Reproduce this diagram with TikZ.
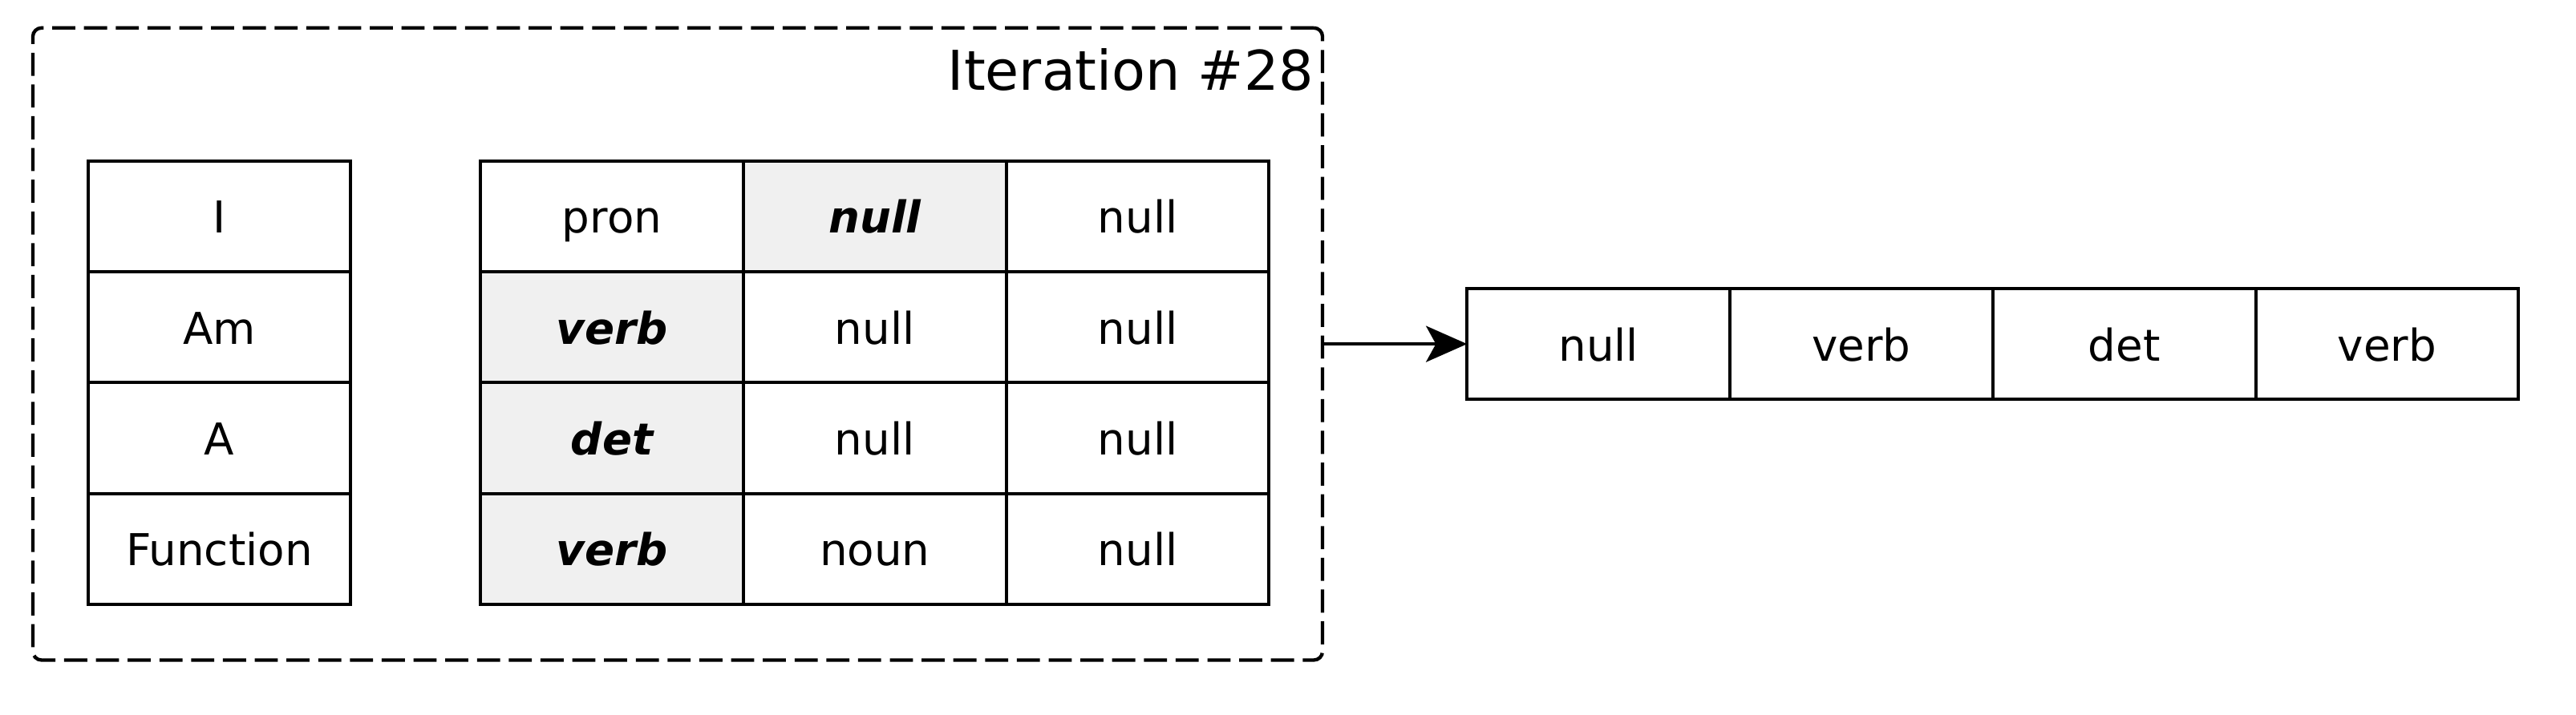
\documentclass[tikz,border=0pt]{standalone}
\usepackage{fontspec}
\setmainfont{DejaVu Sans}
\usepackage{tikz}
\usetikzlibrary{arrows.meta,positioning}
\definecolor{pick}{HTML}{F0F0F0}

\begin{document}
\begin{tikzpicture}[node distance=0pt,
  cl/.style={draw,line width=1.1pt,outer sep=0pt,minimum width=3.2cm,minimum height=1.35cm,text height=11.6pt,text depth=0pt,font=\fontsize{15.2}{18}\selectfont},
  hl/.style={cl,fill=pick,font=\fontsize{15.2}{18}\selectfont\bfseries\itshape},
  bx/.style={draw,line width=1.2pt,dash pattern=on 8pt off 3pt,rounded corners=3pt,outer sep=0pt,minimum width=15.7cm,minimum height=7.7cm},
  ar/.style={-{Stealth[length=0.5cm,width=0.44cm,inset=0.12cm]},line width=1.1pt},
  tl/.style={font=\fontsize{19}{22}\selectfont,inner sep=0pt}]
  \useasboundingbox (0,0) rectangle (31.36,8.7);
  \node[bx] (iter) at (8.25,4.51) {};
  \node[tl,anchor=base east] (title) at ([xshift=-0.1cm,yshift=-0.76cm]iter.north east) {Iteration \#28};
  % words
  \node[cl] (w1) at (2.67,6.065) {I};
  \node[cl,below=of w1] (w2) {Am};
  \node[cl,below=of w2] (w3) {A};
  \node[cl,below=of w3] (w4) {Function};
  % tag table
  \node[cl,right=1.58cm of w1] (t11) {pron};
  \node[hl,right=of t11] (t12) {null};
  \node[cl,right=of t12] (t13) {null};
  \node[hl,below=of t11] (t21) {verb};
  \node[cl,right=of t21] (t22) {null};
  \node[cl,right=of t22] (t23) {null};
  \node[hl,below=of t21] (t31) {det};
  \node[cl,right=of t31] (t32) {null};
  \node[cl,right=of t32] (t33) {null};
  \node[hl,below=of t31] (t41) {verb};
  \node[cl,right=of t41] (t42) {noun};
  \node[cl,right=of t42] (t43) {null};
  % result
  \node[cl,right=1.76cm of iter] (r1) {null};
  \node[cl,right=of r1] (r2) {verb};
  \node[cl,right=of r2] (r3) {det};
  \node[cl,right=of r3] (r4) {verb};
  \draw[ar] (iter.east) -- (r1.west);
\end{tikzpicture}
\end{document}
